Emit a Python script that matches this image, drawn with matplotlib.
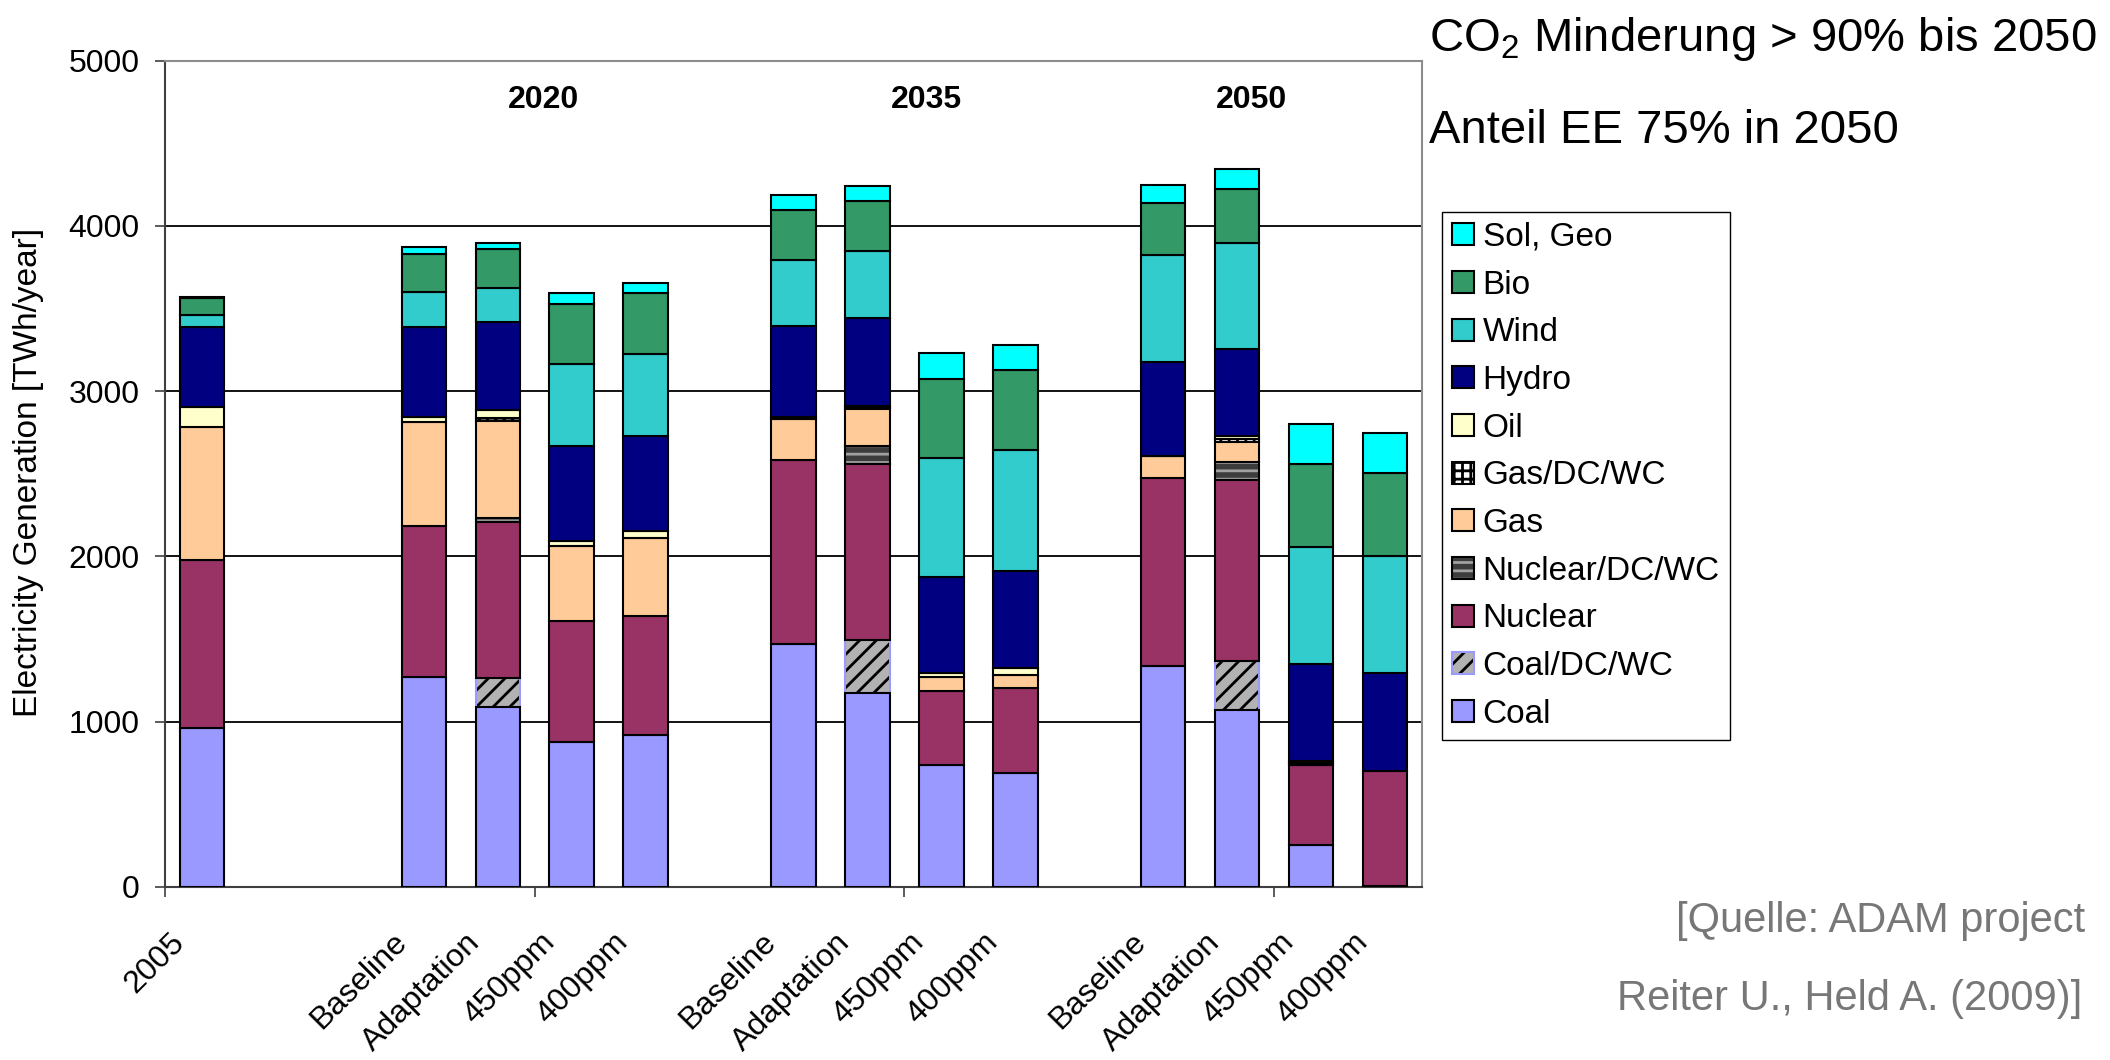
import numpy as np
import matplotlib
matplotlib.use("Agg")
import matplotlib.pyplot as plt
from matplotlib.patches import Patch
from matplotlib.transforms import ScaledTranslation

plt.rcParams['font.family'] = ['Liberation Sans', 'DejaVu Sans']
plt.rcParams['mathtext.fontset'] = 'custom'
plt.rcParams['mathtext.rm'] = 'Liberation Sans'
plt.rcParams['hatch.linewidth'] = 2.0

# Category slots (blank entries separate the scenario groups)
categories = ['2005', '', '', 'Baseline', 'Adaptation', '450ppm', '400ppm', '',
              'Baseline', 'Adaptation', '450ppm', '400ppm', '',
              'Baseline', 'Adaptation', '450ppm', '400ppm']
period_labels = ['2020', '2035', '2050']

# Electricity generation by source [TWh/year]
coal =        [960, 0, 0, 1270, 1091, 878, 921, 0, 1469, 1172, 738, 687, 0, 1335, 1072, 253, 5]
coal_ccs =    [0, 0, 0, 0, 175, 0, 0, 0, 0, 320, 0, 0, 0, 0, 294, 0, 0]
nuclear =     [1020, 0, 0, 912, 942, 732, 718, 0, 1113, 1068, 445, 519, 0, 1139, 1096, 485, 699]
nuclear_ccs = [0, 0, 0, 0, 24, 0, 0, 0, 0, 108, 0, 0, 0, 0, 109, 0, 0]
gas =         [805, 0, 0, 631, 586, 455, 471, 0, 252, 223, 86, 75, 0, 131, 120, 15, 0]
gas_ccs =     [0, 0, 0, 0, 18, 0, 0, 0, 0, 10, 0, 0, 0, 0, 22, 0, 0]
oil =         [120, 0, 0, 32, 47, 26, 45, 0, 8, 7, 23, 45, 0, 5, 15, 10, 0]
hydro =       [480, 0, 0, 545, 533, 577, 572, 0, 551, 533, 582, 583, 0, 566, 528, 586, 588]
wind =        [75, 0, 0, 208, 206, 497, 500, 0, 403, 406, 722, 733, 0, 645, 642, 708, 708]
bio =         [103, 0, 0, 231, 236, 364, 366, 0, 302, 302, 480, 486, 0, 317, 323, 500, 502]
sol_geo =     [5, 0, 0, 45, 40, 64, 60, 0, 86, 89, 154, 148, 0, 109, 120, 245, 246]

# name, values, face colour, hatch, hatch colour, edge colour (bottom to top)
series = [
    ('Coal',          coal,        '#9999FF', None, None,      'black'),
    ('Coal/DC/WC',    coal_ccs,    '#B2B2B2', '//', 'black',   '#9999FF'),
    ('Nuclear',       nuclear,     '#993366', None, None,      'black'),
    ('Nuclear/DC/WC', nuclear_ccs, '#3C3C3C', '--', '#A0A0A0', 'black'),
    ('Gas',           gas,         '#FFCC99', None, None,      'black'),
    ('Gas/DC/WC',     gas_ccs,     '#FFFFFF', '++', 'black',   'black'),
    ('Oil',           oil,         '#FFFFCC', None, None,      'black'),
    ('Hydro',         hydro,       '#000080', None, None,      'black'),
    ('Wind',          wind,        '#33CCCC', None, None,      'black'),
    ('Bio',           bio,         '#339966', None, None,      'black'),
    ('Sol, Geo',      sol_geo,     '#00FFFF', None, None,      'black'),
]

W, H = 2110, 1060
fig = plt.figure(figsize=(W / 100, H / 100), dpi=100)
ax = fig.add_axes([165 / W, 1 - 887 / H, (1422 - 165) / W, (887 - 60.5) / H])

x = np.arange(len(categories))
width = 0.6
bottom = np.zeros(len(x))
handles, names = [], []
for name, vals, face, hatch, hcol, ecol in series:
    v = np.asarray(vals, dtype=float)
    m = v > 0
    if hatch:
        ax.bar(x[m], v[m], width, bottom=bottom[m], color=face, edgecolor=hcol,
               hatch=hatch, linewidth=0, zorder=2)
        ax.bar(x[m], v[m], width, bottom=bottom[m], facecolor='none',
               edgecolor=ecol, linewidth=1.5, zorder=2.6)
        h = (Patch(facecolor=face, edgecolor=hcol, hatch=hatch, linewidth=0),
             Patch(facecolor='none', edgecolor=ecol, linewidth=1.5))
    else:
        ax.bar(x[m], v[m], width, bottom=bottom[m], color=face, edgecolor=ecol,
               linewidth=1.5, zorder=3)
        h = Patch(facecolor=face, edgecolor=ecol, linewidth=1.5)
    bottom += v
    handles.append(h)
    names.append(name)

ax.set_xlim(-0.5, len(categories) - 0.5)
ax.set_ylim(0, 5000)
yticks = np.arange(0, 5001, 1000)
ax.set_yticks(yticks)
for t in yticks[1:-1]:
    ax.axhline(t, color='black', linewidth=1.3, zorder=0.5)

for side in ('left', 'bottom'):
    ax.spines[side].set_color('#404040')
    ax.spines[side].set_linewidth(1.5)
for side in ('top', 'right'):
    ax.spines[side].set_color('#8C8C8C')
    ax.spines[side].set_linewidth(1.5)

ax.tick_params(axis='y', direction='out', length=7.5, width=1.2,
               color='#404040', labelsize=23, pad=11)
ax.set_xticks(x)
ax.set_xticklabels(categories, rotation=45, ha='right', va='top', fontsize=23)
ax.set_xticks([-0.5, 4.5, 9.5, 14.5], minor=True)
ax.tick_params(axis='x', which='major', length=0, pad=29)
ax.tick_params(axis='x', which='minor', direction='out', length=7.5,
               width=1.2, color='#404040')
shift = ScaledTranslation(-8 / 72, 0, fig.dpi_scale_trans)
for lab in ax.get_xticklabels():
    lab.set_transform(lab.get_transform() + shift)

# Period headings above the scenario groups
period_x = [4.62, 9.8, 14.2]
for px, lbl in zip(period_x, period_labels):
    ax.text(px, 4760, lbl, fontsize=23, fontweight='bold',
            ha='center', va='center', zorder=4)

fig.text(29 / W, 1 - 472 / H, 'Electricity Generation [TWh/year]',
         rotation=90, fontsize=24, ha='center', va='center')

leg = fig.legend(handles[::-1], names[::-1], loc='upper left',
                 bbox_to_anchor=(1442 / W, 1 - 212 / H), fontsize=24,
                 frameon=True, fancybox=False, edgecolor='black',
                 framealpha=1, handlelength=0.66, handleheight=0.63,
                 handletextpad=0.26, labelspacing=0.5, borderpad=0.3,
                 borderaxespad=0)
leg.get_frame().set_linewidth(1.0)

fig.text(1429 / W, 1 - 51 / H, r'CO$_\mathregular{2}$ Minderung > 90% bis 2050',
         fontsize=34, ha='left', va='baseline')
fig.text(1429 / W, 1 - 143 / H, 'Anteil EE 75% in 2050',
         fontsize=34, ha='left', va='baseline')

fig.text(2085 / W, 1 - 932 / H, '[Quelle: ADAM project', fontsize=30,
         color='#777777', ha='right', va='baseline')
fig.text(2082 / W, 1 - 1010 / H, 'Reiter U., Held A. (2009)]', fontsize=30,
         color='#777777', ha='right', va='baseline')

fig.savefig('out.png', dpi=100)
